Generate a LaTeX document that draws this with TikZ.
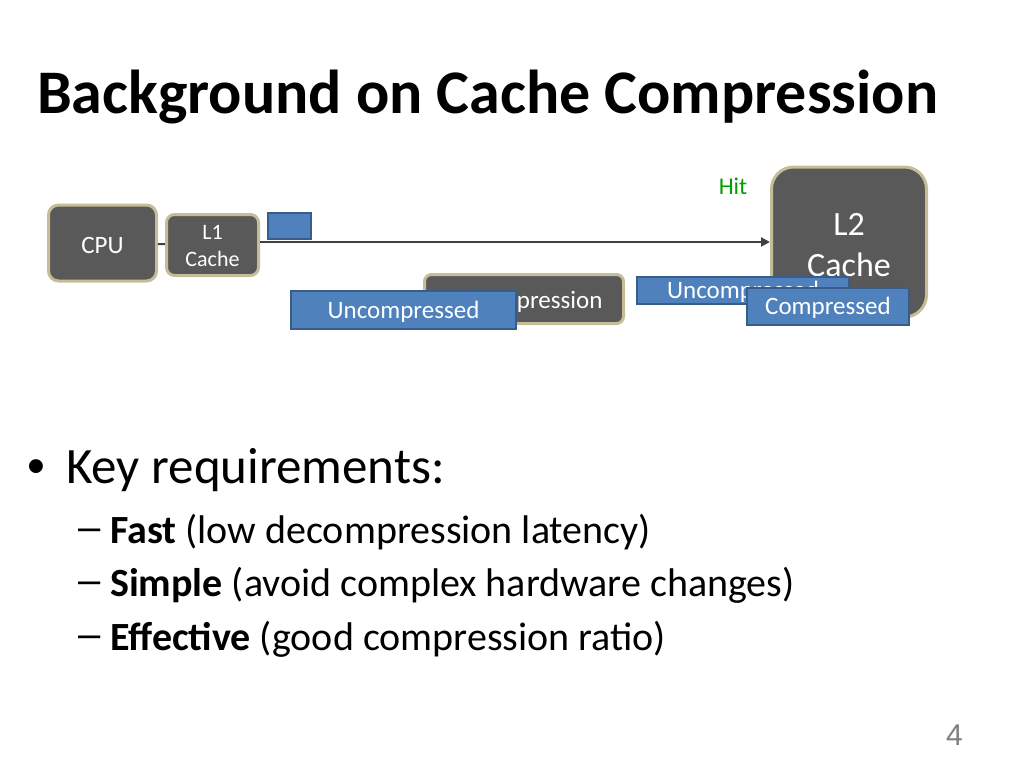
\documentclass[tikz,border=0pt]{standalone}
\usepackage{fontspec}
\setmainfont{Carlito}
\newfontfamily\markfont{Liberation Sans}
\usetikzlibrary{calc,positioning,arrows.meta}
\definecolor{BoxDark}{HTML}{595959}
\definecolor{BoxRim}{HTML}{C4BD97}
\definecolor{BlockBlue}{HTML}{4F81BD}
\definecolor{BlockRim}{HTML}{385D8A}
\definecolor{HitGreen}{HTML}{00A000}
\definecolor{LinkGray}{HTML}{404040}
\newcommand{\px}[1]{\fontsize{#1}{\dimexpr #1pt*6/5\relax}\selectfont}
\tikzset{
  unit/.style={rounded corners=10pt, fill=BoxDark, draw=BoxRim, line width=3pt,
    text=white, align=center, inner sep=0pt},
  block/.style={fill=BlockBlue, draw=BlockRim, line width=2pt, text=white,
    inner sep=0pt, font=\px{25}, text height=16pt, text depth=0pt},
  link/.style={draw=LinkGray, line width=2pt},
  line/.style={anchor=base west, inner sep=0pt}
}

\begin{document}
\begin{tikzpicture}[x=1pt,y=-1pt]
  \useasboundingbox (0,0) rectangle (1024,768);
  % title
  \node[line, font=\px{62}\bfseries] (title) at (37,113) {Background on Cache Compression};
  % hierarchy
  \node[unit, minimum width=108pt, minimum height=76pt, font=\px{25},
    text height=20pt, text depth=0pt] (CPU) at (102.5,243) {CPU};
  \node[unit, rounded corners=8pt, minimum width=92pt, minimum height=61pt,
    font=\fontsize{22}{27}\selectfont] (L1) at (212.5,245) {\rule{0pt}{17pt}L1\\Cache};
  \node[unit, rounded corners=22pt, minimum width=155pt, minimum height=150pt,
    font=\fontsize{34}{41}\selectfont] (L2) at (849,242) {\rule{0pt}{29pt}L2\\Cache};
  \node[block, minimum width=43pt, minimum height=26pt] (req) at (289.5,226) {};
  \draw[link] (CPU) -- (L1);
  \draw[link, -{Triangle[length=9pt,width=9pt]}]
    ([yshift=3pt]L1.east) -- ([yshift=3pt]L1.east -| L2.west);
  \node[text=HitGreen, font=\px{24}, inner sep=0pt] (hit) at (733,186) {Hit};
  % data moving back
  \node[unit, rounded corners=7pt, minimum width=199pt, minimum height=49pt,
    font=\px{25}, text height=18pt, text depth=0pt] (decomp) at (524,299) {Decompression};
  \node[block, minimum width=225pt, minimum height=38pt] (uncompA) at (403.5,310) {Uncompressed};
  \node[block, minimum width=212pt, minimum height=27pt] (uncompB) at (743,290.5) {Uncompressed};
  \node[block, minimum width=162pt, minimum height=37pt] (comp) at (828,306.5) {Compressed};
  % requirements
  \node[line, font=\markfont\px{51}] (dot) at (27,483) {•};
  \node[line, font=\px{51}] (key) at (66,483) {Key requirements:};
  \foreach \y/\head/\rest [count=\i] in {
      543/Fast/(low decompression latency),
      596/Simple/(avoid complex hardware changes),
      650/Effective/(good compression ratio)} {
    \node[line, font=\markfont\px{40}] (dash\i) at (78,\y) {\raisebox{3pt}{–}};
    \node[line, font=\px{40}] (req\i) at (110,\y) {\textbf{\head} \rest};
  }
  \node[anchor=base east, inner sep=0pt, text=gray, font=\markfont\px{30}] (page) at (963,745) {4};
\end{tikzpicture}
\end{document}
